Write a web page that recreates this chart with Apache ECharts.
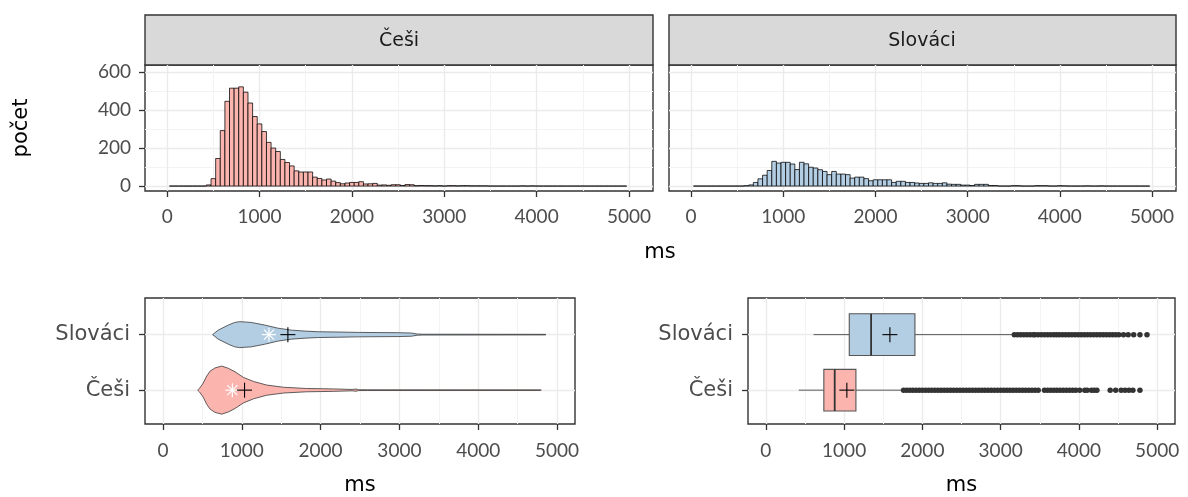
<!DOCTYPE html>
<html>
<head>
<meta charset="utf-8">
<script src="https://cdn.jsdelivr.net/npm/echarts@6/dist/echarts.min.js"></script>
<style>
  html, body { margin: 0; padding: 0; background: #fff; }
  #chart { width: 1188px; height: 497px; }
</style>
</head>
<body>
<div id="chart"></div>
<script>
const groups = ['Češi', 'Slováci'];
const colors = ['#FBB4AE', '#B3CDE3'];
const xTicks = [0, 1000, 2000, 3000, 4000, 5000];
const xMinor = [500, 1500, 2500, 3500, 4500];
const countTicks = [0, 200, 400, 600];
const countMinor = [100, 300, 500];

// histogram counts, bins 50 ms wide, first bin 25-75 ms
const binStart = 25;
const binWidth = 50;
const histCesi = [
  0, 0, 0, 0, 0, 0, 0, 0, 6, 39, 145, 292, 446, 515, 515, 522, 494, 437, 366, 327,
  287, 230, 200, 182, 140, 124, 106, 80, 74, 74, 74, 47, 40, 32, 37, 26, 18, 12, 16, 19,
  19, 23, 11, 12, 14, 5, 6, 4, 7, 7, 3, 8, 7, 2, 3, 2, 2, 1, 2, 0,
  2, 2, 1, 2, 2, 1, 1, 1, 1, 0, 0, 0, 0, 0, 0, 0, 1, 0, 1, 0,
  0, 0, 0, 0, 0, 0, 0, 0, 0, 0, 0, 0, 0, 0, 0, 0, 0, 0, 0,
];
const histSlovaci = [
  0, 0, 0, 0, 0, 0, 0, 0, 0, 0, 0, 2, 6, 19, 38, 57, 82, 130, 121, 125,
  125, 116, 87, 125, 117, 99, 95, 86, 77, 60, 77, 63, 63, 60, 42, 47, 47, 39, 28, 33,
  33, 33, 33, 19, 25, 25, 19, 19, 16, 14, 14, 17, 14, 14, 17, 10, 9, 9, 5, 5,
  3, 9, 9, 9, 3, 3, 0, 0, 0, 2, 2, 0, 0, 0, 2, 2, 2, 0, 0, 2,
  1, 0, 0, 0, 0, 1, 0, 0, 1, 0, 0, 0, 0, 0, 0, 0, 0, 0, 0,
];

// violin outlines: [ms, half width in category units]
const violinCesi = [
  [440, 0], [465, 0.035], [510, 0.125], [555, 0.255], [600, 0.345], [660, 0.4], [745, 0.433],
  [830, 0.393], [915, 0.33], [1020, 0.23], [1150, 0.156], [1315, 0.092], [1530, 0.052],
  [1820, 0.03], [2160, 0.022], [2400, 0.012], [2450, 0.02], [2480, 0.008], [2600, 0.006],
  [4790, 0.005], [4800, 0],
];
const violinSlovaci = [
  [630, 0], [700, 0.081], [830, 0.173], [910, 0.22], [975, 0.234], [1120, 0.22], [1290, 0.173],
  [1460, 0.116], [1630, 0.081], [1800, 0.064], [1970, 0.052], [2220, 0.047], [2480, 0.04],
  [2980, 0.035], [3150, 0.029], [3230, 0.01], [3300, 0.007], [4850, 0.005], [4860, 0],
];

const medians = [880, 1345];
const means = [1035, 1585];

// boxplot: [low whisker, Q1, median, Q3, high whisker]
const boxCesi = [421, 741, 880, 1151, 1752];
const boxSlovaci = [610, 1066, 1345, 1905, 3171];

const outliersCesi = [
  1760, 1800, 1840, 1880, 1920, 1960, 2000, 2040, 2080, 2120, 2160, 2200, 2240, 2280, 2320,
  2360, 2400, 2440, 2480, 2520, 2560, 2600, 2640, 2680, 2720, 2760, 2800, 2840, 2880, 2920,
  2960, 3000, 3040, 3080, 3120, 3160, 3200, 3240, 3280, 3320, 3360, 3400, 3440, 3480,
  3560, 3600, 3640, 3680, 3720, 3760, 3800, 3840, 3880, 3920, 3960, 4010,
  4075, 4105, 4160, 4195, 4230, 4400, 4470, 4540, 4590, 4640, 4690, 4780,
];
const outliersSlovaci = [
  3175, 3215, 3255, 3295, 3335, 3375, 3415, 3440, 3480, 3520, 3560, 3600, 3640, 3680, 3715,
  3750, 3790, 3830, 3870, 3910, 3950, 3990, 4030, 4070, 4110, 4150, 4190, 4230, 4270, 4310,
  4350, 4390, 4430, 4470, 4510, 4570, 4630, 4700, 4780, 4870,
];

const NUM_FONT = 'Lato';
const WORD_FONT = 'DejaVu Sans';
const GREY_TEXT = '#4D4D4D';

const toBins = (counts) => counts.map((c, i) => [binStart + i * binWidth, binStart + (i + 1) * binWidth, c]);

const histItem = (color) => (params, api) => {
  const a = api.coord([api.value(0), api.value(2)]);
  const b = api.coord([api.value(1), 0]);
  return {
    type: 'rect',
    shape: { x: a[0], y: a[1], width: b[0] - a[0], height: b[1] - a[1] },
    style: { fill: color, stroke: '#000', lineWidth: 0.75 },
  };
};

const seg = (x1, y1, x2, y2, color, w) => ({
  type: 'line', shape: { x1, y1, x2, y2 }, style: { stroke: color, lineWidth: w },
});
const plus = (p, r, color, w) => [
  seg(p[0] - r, p[1], p[0] + r, p[1], color, w),
  seg(p[0], p[1] - r, p[0], p[1] + r, color, w),
];
const asterisk = (p, r, color, w) => {
  const d = r * 0.72;
  return [
    ...plus(p, r, color, w),
    seg(p[0] - d, p[1] - d, p[0] + d, p[1] + d, color, w),
    seg(p[0] - d, p[1] + d, p[0] + d, p[1] - d, color, w),
  ];
};

const violinProfiles = [violinCesi, violinSlovaci];
const violinItem = (params, api) => {
  const cat = api.value(0);
  const prof = violinProfiles[cat];
  const upper = prof.map(([ms, w]) => api.coord([ms, cat + w]));
  const lower = prof.slice().reverse().map(([ms, w]) => api.coord([ms, cat - w]));
  return {
    type: 'group',
    children: [
      {
        type: 'polygon',
        shape: { points: upper.concat(lower) },
        style: { fill: colors[cat], stroke: '#3a3a3a', lineWidth: 0.8 },
      },
      ...asterisk(api.coord([api.value(1), cat]), 7, '#fff', 1.2),
      ...plus(api.coord([api.value(2), cat]), 7.5, '#000', 1.1),
    ],
  };
};

const boxes = [boxCesi, boxSlovaci];
const boxItem = (params, api) => {
  const cat = api.value(0);
  const [lo, q1, med, q3, hi] = boxes[cat];
  const half = api.size([0, 0.375])[1];
  const y = api.coord([0, cat])[1];
  const xlo = api.coord([lo, cat])[0];
  const x1 = api.coord([q1, cat])[0];
  const xm = api.coord([med, cat])[0];
  const x3 = api.coord([q3, cat])[0];
  const xhi = api.coord([hi, cat])[0];
  return {
    type: 'group',
    children: [
      seg(xlo, y, x1, y, '#333', 0.8),
      seg(x3, y, xhi, y, '#333', 0.8),
      {
        type: 'rect',
        shape: { x: x1, y: y - half, width: x3 - x1, height: 2 * half },
        style: { fill: colors[cat], stroke: '#555', lineWidth: 1.1 },
      },
      seg(xm, y - half, xm, y + half, '#333', 1.8),
      ...plus(api.coord([api.value(1), cat]), 7.5, '#000', 1.1),
    ],
  };
};

const tickStyle = { length: 6, lineStyle: { color: '#333', width: 1.3 } };

const xMajorAxis = (gridIndex, min, max, showName, margin) => ({
  type: 'value', gridIndex, min, max,
  axisLine: { show: false, onZero: false },
  axisTick: { customValues: xTicks, ...tickStyle },
  axisLabel: {
    customValues: xTicks, color: GREY_TEXT, fontSize: 19, fontFamily: NUM_FONT, margin,
    formatter: (v) => String(v),
  },
  splitLine: { show: true, lineStyle: { color: '#EBEBEB', width: 1.4 } },
  name: showName ? 'ms' : '',
  nameLocation: 'middle',
  nameGap: 51,
  nameTextStyle: { color: '#000', fontSize: 21, fontFamily: WORD_FONT },
});
const xMinorAxis = (gridIndex, min, max) => ({
  type: 'value', gridIndex, min, max,
  axisLine: { show: false, onZero: false },
  axisTick: { show: false, customValues: xMinor },
  axisLabel: { show: false, customValues: xMinor },
  splitLine: { show: true, lineStyle: { color: '#F3F3F3', width: 1 } },
});

const gridStyle = { show: true, borderColor: '#333', borderWidth: 1.4, backgroundColor: '#fff' };
const TOP_MIN = -240, TOP_MAX = 5260;
const BOT_MIN = -228, BOT_MAX = 5228;
const CAT_MIN = -0.61, CAT_MAX = 1.66;

const chart = echarts.init(document.getElementById('chart'));
chart.setOption({
  animation: false,
  grid: [
    { left: 145, top: 65, width: 508, height: 126, ...gridStyle },
    { left: 669, top: 65, width: 507, height: 126, ...gridStyle },
    { left: 145, top: 298, width: 430, height: 127, ...gridStyle },
    { left: 748, top: 298, width: 427, height: 127, ...gridStyle },
  ],
  xAxis: [
    xMajorAxis(0, TOP_MIN, TOP_MAX, false, 16),
    xMajorAxis(1, TOP_MIN, TOP_MAX, false, 16),
    xMajorAxis(2, BOT_MIN, BOT_MAX, true, 17),
    xMajorAxis(3, BOT_MIN, BOT_MAX, true, 17),
    xMinorAxis(0, TOP_MIN, TOP_MAX),
    xMinorAxis(1, TOP_MIN, TOP_MAX),
    xMinorAxis(2, BOT_MIN, BOT_MAX),
    xMinorAxis(3, BOT_MIN, BOT_MAX),
  ],
  yAxis: [
    {
      type: 'value', gridIndex: 0, min: -26, max: 637,
      axisLine: { show: false, onZero: false },
      axisTick: { customValues: countTicks, ...tickStyle },
      axisLabel: { customValues: countTicks, color: GREY_TEXT, fontSize: 19, fontFamily: NUM_FONT, margin: 14 },
      splitLine: { show: true, lineStyle: { color: '#EBEBEB', width: 1.4 } },
      name: 'počet', nameLocation: 'middle', nameRotate: 90, nameGap: 113,
      nameTextStyle: { color: '#000', fontSize: 21, fontFamily: WORD_FONT },
    },
    {
      type: 'value', gridIndex: 1, min: -26, max: 637,
      axisLine: { show: false, onZero: false },
      axisTick: { show: false, customValues: countTicks },
      axisLabel: { show: false, customValues: countTicks },
      splitLine: { show: true, lineStyle: { color: '#EBEBEB', width: 1.4 } },
    },
    ...[2, 3].map((g) => ({
      type: 'value', gridIndex: g, min: CAT_MIN, max: CAT_MAX,
      axisLine: { show: false, onZero: false },
      axisTick: { customValues: [0, 1], ...tickStyle },
      axisLabel: {
        customValues: [0, 1], color: GREY_TEXT, fontSize: 21, fontFamily: WORD_FONT, margin: 15,
        formatter: (v) => groups[Math.round(v)],
      },
      splitLine: { show: true, lineStyle: { color: '#EBEBEB', width: 1.4 } },
    })),
    ...[0, 1].map((g) => ({
      type: 'value', gridIndex: g, min: -26, max: 637,
      axisLine: { show: false, onZero: false },
      axisTick: { show: false, customValues: countMinor },
      axisLabel: { show: false, customValues: countMinor },
      splitLine: { show: true, lineStyle: { color: '#F3F3F3', width: 1 } },
    })),
  ],
  graphic: [
    {
      type: 'rect', shape: { x: 145, y: 15, width: 508, height: 50 },
      style: { fill: '#D9D9D9', stroke: '#333', lineWidth: 1.4 },
    },
    {
      type: 'rect', shape: { x: 669, y: 15, width: 507, height: 50 },
      style: { fill: '#D9D9D9', stroke: '#333', lineWidth: 1.4 },
    },
    {
      type: 'text', x: 399, y: 41,
      style: { text: groups[0], fill: '#1A1A1A', font: `19px '${WORD_FONT}'`, align: 'center', verticalAlign: 'middle' },
    },
    {
      type: 'text', x: 922, y: 41,
      style: { text: groups[1], fill: '#1A1A1A', font: `19px '${WORD_FONT}'`, align: 'center', verticalAlign: 'middle' },
    },
    {
      type: 'text', x: 660, y: 253,
      style: { text: 'ms', fill: '#000', font: `21px '${WORD_FONT}'`, align: 'center', verticalAlign: 'middle' },
    },
  ],
  series: [
    {
      type: 'custom', xAxisIndex: 0, yAxisIndex: 0,
      renderItem: histItem(colors[0]), encode: { x: [0, 1], y: 2 },
      data: toBins(histCesi),
    },
    {
      type: 'custom', xAxisIndex: 1, yAxisIndex: 1,
      renderItem: histItem(colors[1]), encode: { x: [0, 1], y: 2 },
      data: toBins(histSlovaci),
    },
    {
      type: 'custom', xAxisIndex: 2, yAxisIndex: 2,
      renderItem: violinItem, encode: { y: 0, x: [1, 2] },
      data: [[0, medians[0], means[0]], [1, medians[1], means[1]]],
    },
    {
      type: 'scatter', xAxisIndex: 3, yAxisIndex: 3,
      symbolSize: 5.5, itemStyle: { color: '#333', opacity: 1 },
      data: outliersCesi.map((v) => [v, 0]).concat(outliersSlovaci.map((v) => [v, 1])),
    },
    {
      type: 'custom', xAxisIndex: 3, yAxisIndex: 3,
      renderItem: boxItem, encode: { y: 0, x: 1 },
      data: [[0, means[0]], [1, means[1]]],
    },
  ],
});
</script>
</body>
</html>
